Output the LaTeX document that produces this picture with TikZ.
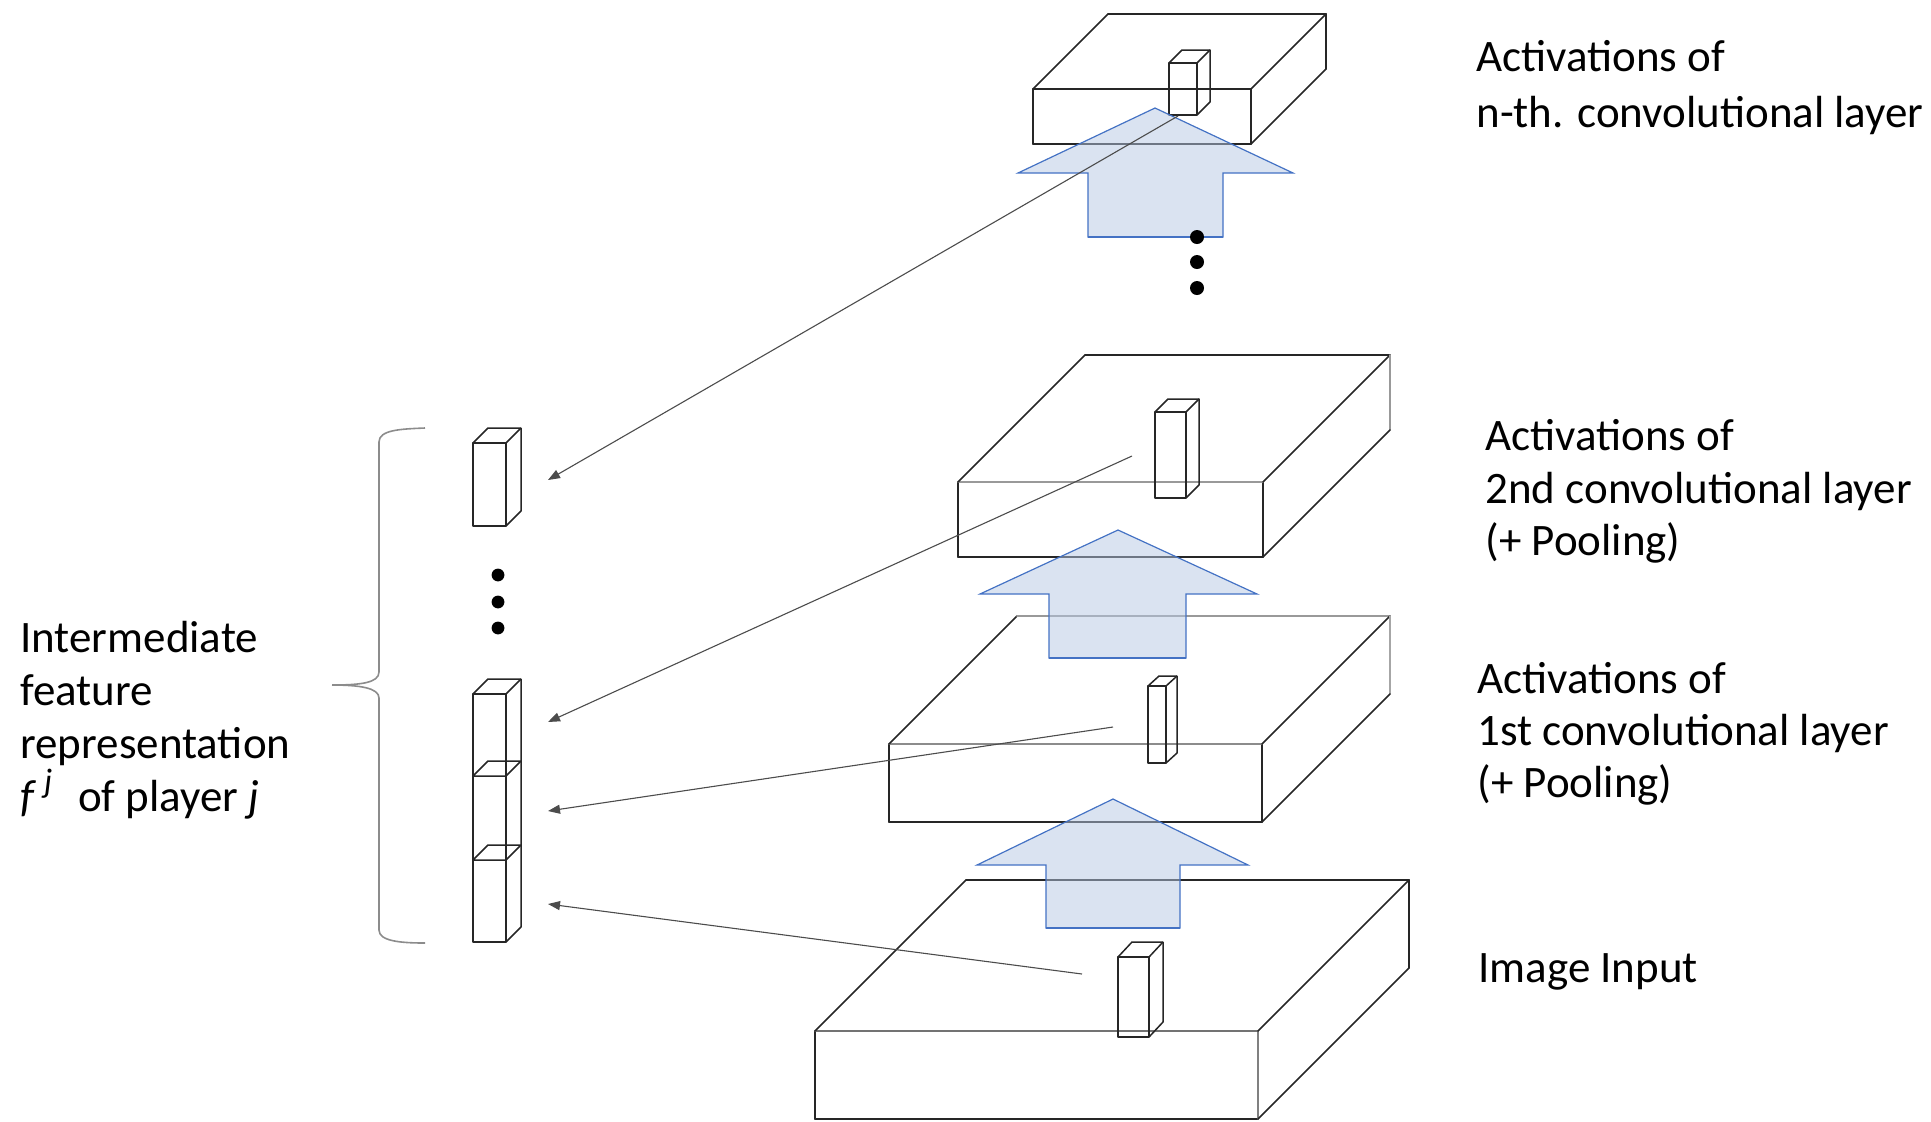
\documentclass[tikz,border=0pt]{standalone}
\usepackage{fontspec}
\setmainfont{Carlito}
\usetikzlibrary{arrows.meta}
\definecolor{arrfill}{RGB}{181,199,227}
\definecolor{arrline}{RGB}{68,114,196}
\tikzset{
  boxline/.style={draw=black!85, line width=0.85pt, line cap=round},
  edgeFL/.style={boxline}, edgeFB/.style={boxline}, edgeFR/.style={boxline},
  edgeFT/.style={boxline}, edgeTL/.style={boxline}, edgeBT/.style={boxline},
  edgeTR/.style={boxline}, edgeBR/.style={boxline}, edgeBB/.style={boxline},
  cubeline/.style={draw=black!85, line width=0.75pt, line join=round},
  conn/.style={draw=black!70, line width=0.55pt, -{Triangle[length=6pt,width=4.5pt]}},
  bluearrow/.style={fill=arrfill, fill opacity=0.5, draw=arrline, line width=0.6pt},
  lbl/.style={anchor=base west, inner sep=0pt, font=\fontsize{22.5}{27}\selectfont},
  bracel/.style={draw=black!45, line width=0.8pt},
}
% slab: front rect (x1,y1)-(x2,y2), depth d
\newcommand\slab[5]{%
  \draw[edgeFL] (#1,#2) -- (#1,#4);
  \draw[edgeFB] (#1,#4) -- (#3,#4);
  \draw[edgeFR] (#3,#2) -- (#3,#4);
  \draw[edgeFT] (#1,#2) -- (#3,#2);
  \draw[edgeTL] (#1,#2) -- ({#1+#5},{#2-#5});
  \draw[edgeBT] ({#1+#5},{#2-#5}) -- ({#3+#5},{#2-#5});
  \draw[edgeTR] (#3,#2) -- ({#3+#5},{#2-#5});
  \draw[edgeBR] ({#3+#5},{#2-#5}) -- ({#3+#5},{#4-#5});
  \draw[edgeBB] (#3,#4) -- ({#3+#5},{#4-#5});
}
% small cuboid: front rect (x1,y1)-(x2,y2), depth dx, dy
\newcommand\cub[6]{%
  \draw[cubeline] (#1,#2) rectangle (#3,#4);
  \draw[cubeline] (#1,#2) -- ({#1+#5},{#2-#6}) -- ({#3+#5},{#2-#6}) -- ({#3+#5},{#4-#6}) -- (#3,#4);
  \draw[cubeline] (#3,#2) -- ({#3+#5},{#2-#6});
}
% block arrow pointing up
\newcommand\uparr[8]{%
  \filldraw[bluearrow] (#1,#2) -- (#4,#5) -- (#7,#5) -- (#7,#8) -- (#6,#8) -- (#6,#5) -- (#3,#5) -- cycle;
  \draw[draw=arrline, line width=1pt] (#6,#8) -- (#7,#8);
}
\begin{document}
\begin{tikzpicture}[x=0.5pt, y=-0.5pt]
\useasboundingbox (0,0) rectangle (1931,1121);

% ---- layers ----
\slab{1033}{89}{1251}{144}{75}
\cub{1169}{63}{1197}{115}{13}{13}

\begin{scope}[edgeFT/.style={boxline,draw=black!40}, edgeBR/.style={boxline,draw=black!40}]
\slab{958}{482}{1263}{557}{127}
\end{scope}
\cub{1155}{412}{1186}{498}{13}{13}

\begin{scope}[edgeFT/.style={boxline,draw=black!45}, edgeBT/.style={boxline,draw=black!40}, edgeBR/.style={boxline,draw=black!35}]
\slab{889}{744}{1262}{822}{128}
\end{scope}
\cub{1148}{686}{1166}{763}{11}{10}

\begin{scope}[edgeFT/.style={boxline,draw=black!55}, edgeFR/.style={boxline,draw=black!50}]
\slab{815}{1031}{1258}{1119}{151}
\end{scope}
\cub{1118}{957}{1149}{1037}{14}{15}

% ---- block arrows ----
\uparr{1155}{108}{1018}{1293}{173}{1088}{1223}{237}
\uparr{1118}{530}{980}{1257}{594}{1049}{1186}{658}
\uparr{1113}{799}{977}{1248}{865}{1046}{1180}{928}

% ---- dots ----
\fill (1197,237) circle[radius=3.5pt];
\fill (1197,262) circle[radius=3.5pt];
\fill (1197,288) circle[radius=3.5pt];
\fill (498,575) circle[radius=3.2pt];
\fill (498,602) circle[radius=3.2pt];
\fill (498,628) circle[radius=3.2pt];

% ---- feature column ----
\cub{473}{443}{506}{526}{15}{15}
\cub{473}{694}{506}{942}{15}{15}
\draw[cubeline] (473,776) -- (506,776) -- (521,761) -- (488,761) -- cycle;
\draw[cubeline] (473,860) -- (506,860) -- (521,845) -- (488,845) -- cycle;

% ---- brace ----
\draw[bracel] (425,428) .. controls (400,429) and (379,430) .. (379,442) -- (379,672)
  .. controls (379,683) and (360,685) .. (332,685)
  .. controls (360,685) and (379,688) .. (379,698) -- (379,930)
  .. controls (379,941) and (400,943) .. (425,943);

% ---- connectors ----
\coordinate (src1) at (1178,116);
\coordinate (src2) at (1132,456);
\coordinate (src3) at (1113,727);
\coordinate (src4) at (1082,974);
\coordinate (tgt1) at (548,480);
\coordinate (tgt2) at (548,722);
\coordinate (tgt3) at (548,811);
\coordinate (tgt4) at (548,904);
\draw[conn] (src1) -- (tgt1);
\draw[conn] (src2) -- (tgt2);
\draw[conn] (src3) -- (tgt3);
\draw[conn] (src4) -- (tgt4);

% ---- labels ----
\node[lbl] (tnA) at (1476,71) {Activations of};
\node[lbl] (tnB) at (1476,127) {n-th. convolutional layer};
\node[lbl] (t2A) at (1485,450) {Activations of};
\node[lbl] (t2B) at (1485,503) {2nd convolutional layer};
\node[lbl] (t2C) at (1485,555) {(+ Pooling)};
\node[lbl] (t1A) at (1477,693) {Activations of};
\node[lbl] (t1B) at (1477,745) {1st convolutional layer};
\node[lbl] (t1C) at (1477,797) {(+ Pooling)};
\node[lbl] (tin) at (1478,982) {Image Input};
\node[lbl] (lA) at (20,652) {Intermediate};
\node[lbl] (lB) at (20,705) {feature};
\node[lbl] (lC) at (20,758) {representation};
\node[lbl] (lD) at (20,811) {{\itshape f}\hspace{0.22em}\raisebox{0.42em}{\fontsize{17}{17}\selectfont\itshape j}\hspace{0.35em} of player {\itshape j}};
\end{tikzpicture}
\end{document}
